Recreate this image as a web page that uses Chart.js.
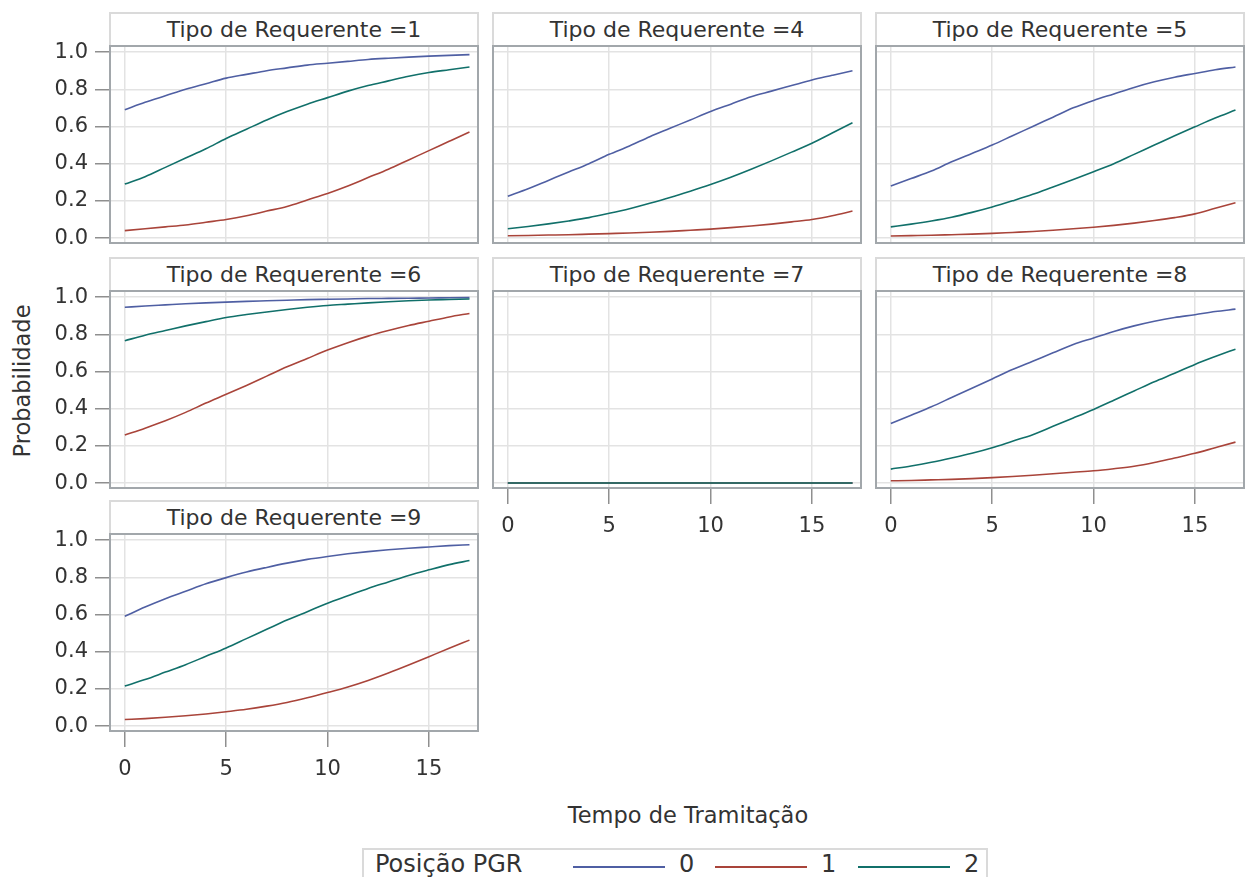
<!DOCTYPE html>
<html lang="pt">
<head>
    <meta charset="UTF-8">
    <title>Probabilidade por Tipo de Requerente</title>
    <script src="https://cdn.jsdelivr.net/npm/chart.js"></script>
    <style>
        body { margin: 0; background: #fff; font-family: "DejaVu Sans", sans-serif; color: #333; }
        #page { position: relative; width: 1250px; height: 877px; overflow: hidden; }
        .hdr {
            position: absolute; box-sizing: border-box; height: 33px;
            border: 2px solid #dadada; border-bottom: none;
            text-align: center; font-size: 22px; line-height: 31px; color: #333;
        }
        canvas { position: absolute; }
        #ytitle {
            position: absolute; left: 22px; top: 381px; font-size: 22.5px;
            transform: translate(-50%, -50%) rotate(-90deg); white-space: nowrap;
        }
        #xtitle {
            position: absolute; left: 688px; top: 815px; font-size: 22.5px;
            transform: translate(-50%, -50%); white-space: nowrap;
        }
        #legenda {
            position: absolute; left: 362px; top: 848px; width: 626px; height: 44px;
            box-sizing: border-box; border: 2px solid #dadada; font-size: 24px;
        }
        #legenda span { position: absolute; top: 0px; }
        #legenda i { position: absolute; top: 16px; height: 2px; width: 92px; }
    </style>
</head>
<body>
<div id="page">
    <div id="ytitle">Probabilidade</div>
    <div id="xtitle">Tempo de Tramitação</div>
    <div id="legenda"></div>
</div>

<script>
    // Tempo de Tramitação (x)
    const tempo = [0, 1, 2, 3, 4, 5, 6, 7, 8, 9, 10, 11, 12, 13, 14, 15, 16, 17];
    const xTicks = [0, 5, 10, 15];
    const yTicks = [0, 0.2, 0.4, 0.6, 0.8, 1.0];
    const posicoes = ["0", "1", "2"];
    const cores = ["#4f5fa3", "#a9443a", "#11706a"];

    // Tipo de Requerente = 1
    const tipo1_pos0 = [0.69, 0.73, 0.765, 0.80, 0.83, 0.86, 0.88, 0.90, 0.915, 0.93, 0.94, 0.95, 0.96, 0.967, 0.973, 0.978, 0.982, 0.986];
    const tipo1_pos1 = [0.04, 0.05, 0.06, 0.07, 0.085, 0.10, 0.12, 0.145, 0.17, 0.205, 0.24, 0.28, 0.325, 0.37, 0.42, 0.47, 0.52, 0.57];
    const tipo1_pos2 = [0.29, 0.33, 0.38, 0.43, 0.48, 0.535, 0.585, 0.635, 0.68, 0.72, 0.755, 0.79, 0.82, 0.845, 0.87, 0.89, 0.905, 0.92];
    // Tipo de Requerente = 4
    const tipo4_pos0 = [0.225, 0.265, 0.31, 0.355, 0.40, 0.45, 0.495, 0.545, 0.59, 0.635, 0.68, 0.72, 0.76, 0.79, 0.82, 0.85, 0.875, 0.90];
    const tipo4_pos1 = [0.012, 0.014, 0.016, 0.018, 0.021, 0.024, 0.027, 0.031, 0.036, 0.042, 0.048, 0.056, 0.065, 0.075, 0.087, 0.10, 0.12, 0.145];
    const tipo4_pos2 = [0.05, 0.062, 0.076, 0.092, 0.11, 0.133, 0.158, 0.187, 0.218, 0.252, 0.288, 0.327, 0.37, 0.415, 0.462, 0.51, 0.565, 0.62];
    // Tipo de Requerente = 5
    const tipo5_pos0 = [0.28, 0.32, 0.36, 0.41, 0.455, 0.50, 0.55, 0.60, 0.65, 0.70, 0.74, 0.775, 0.81, 0.84, 0.865, 0.885, 0.905, 0.92];
    const tipo5_pos1 = [0.011, 0.013, 0.015, 0.018, 0.021, 0.025, 0.03, 0.035, 0.042, 0.05, 0.058, 0.068, 0.08, 0.094, 0.11, 0.13, 0.16, 0.19];
    const tipo5_pos2 = [0.06, 0.075, 0.092, 0.112, 0.138, 0.167, 0.20, 0.235, 0.275, 0.315, 0.357, 0.40, 0.45, 0.50, 0.55, 0.598, 0.645, 0.688];
    // Tipo de Requerente = 6
    const tipo6_pos0 = [0.945, 0.952, 0.958, 0.964, 0.969, 0.973, 0.977, 0.98, 0.983, 0.986, 0.988, 0.99, 0.992, 0.993, 0.994, 0.995, 0.996, 0.997];
    const tipo6_pos1 = [0.258, 0.295, 0.335, 0.38, 0.43, 0.477, 0.525, 0.575, 0.625, 0.67, 0.715, 0.755, 0.79, 0.82, 0.847, 0.87, 0.893, 0.912];
    const tipo6_pos2 = [0.765, 0.795, 0.82, 0.845, 0.868, 0.89, 0.906, 0.92, 0.933, 0.945, 0.955, 0.962, 0.969, 0.975, 0.98, 0.984, 0.987, 0.99];
    // Tipo de Requerente = 7
    const tipo7_pos0 = [0, 0, 0, 0, 0, 0, 0, 0, 0, 0, 0, 0, 0, 0, 0, 0, 0, 0];
    const tipo7_pos1 = [0, 0, 0, 0, 0, 0, 0, 0, 0, 0, 0, 0, 0, 0, 0, 0, 0, 0];
    const tipo7_pos2 = [0, 0, 0, 0, 0, 0, 0, 0, 0, 0, 0, 0, 0, 0, 0, 0, 0, 0];
    // Tipo de Requerente = 8
    const tipo8_pos0 = [0.32, 0.365, 0.41, 0.46, 0.51, 0.56, 0.61, 0.655, 0.70, 0.745, 0.78, 0.815, 0.845, 0.87, 0.89, 0.905, 0.922, 0.935];
    const tipo8_pos1 = [0.012, 0.014, 0.017, 0.02, 0.024, 0.029, 0.035, 0.042, 0.05, 0.058, 0.066, 0.077, 0.09, 0.11, 0.135, 0.16, 0.19, 0.22];
    const tipo8_pos2 = [0.075, 0.092, 0.112, 0.135, 0.16, 0.19, 0.225, 0.26, 0.305, 0.35, 0.396, 0.445, 0.495, 0.545, 0.59, 0.638, 0.68, 0.72];
    // Tipo de Requerente = 9
    const tipo9_pos0 = [0.59, 0.64, 0.685, 0.725, 0.765, 0.798, 0.828, 0.853, 0.876, 0.896, 0.912, 0.926, 0.938, 0.948, 0.956, 0.963, 0.97, 0.975];
    const tipo9_pos1 = [0.035, 0.04, 0.047, 0.055, 0.065, 0.077, 0.09, 0.107, 0.127, 0.152, 0.18, 0.21, 0.245, 0.285, 0.328, 0.373, 0.418, 0.462];
    const tipo9_pos2 = [0.215, 0.25, 0.29, 0.33, 0.375, 0.42, 0.47, 0.52, 0.57, 0.615, 0.66, 0.70, 0.74, 0.775, 0.81, 0.84, 0.868, 0.89];

    // panel layout
    const colLeft = [109, 492, 875];
    const rowTop = [12, 257, 500];
    const frameW = 370, frameH = 199, hdrH = 33;
    const yAxisW = 100, xAxisH = 56, padTop = 14;

    const paineis = [
        { tipo: "1", col: 0, row: 0, y: true,  x: false, series: [tipo1_pos0, tipo1_pos1, tipo1_pos2] },
        { tipo: "4", col: 1, row: 0, y: false, x: false, series: [tipo4_pos0, tipo4_pos1, tipo4_pos2] },
        { tipo: "5", col: 2, row: 0, y: false, x: false, series: [tipo5_pos0, tipo5_pos1, tipo5_pos2] },
        { tipo: "6", col: 0, row: 1, y: true,  x: false, series: [tipo6_pos0, tipo6_pos1, tipo6_pos2] },
        { tipo: "7", col: 1, row: 1, y: false, x: true,  series: [tipo7_pos0, tipo7_pos1, tipo7_pos2] },
        { tipo: "8", col: 2, row: 1, y: false, x: true,  series: [tipo8_pos0, tipo8_pos1, tipo8_pos2] },
        { tipo: "9", col: 0, row: 2, y: true,  x: true,  series: [tipo9_pos0, tipo9_pos1, tipo9_pos2] }
    ];

    const framePlugin = {
        id: "frame",
        afterDraw(chart) {
            const a = chart.chartArea, ctx = chart.ctx;
            ctx.save();
            ctx.strokeStyle = "#a2a7ab";
            ctx.lineWidth = 2;
            ctx.strokeRect(a.left + 1, a.top + 1, a.right - a.left - 2, a.bottom - a.top - 2);
            ctx.restore();
        }
    };

    const page = document.getElementById("page");
    const fonte = { family: "'DejaVu Sans', sans-serif", size: 21 };

    paineis.forEach(p => {
        const left = colLeft[p.col];
        const top = rowTop[p.row];

        const hdr = document.createElement("div");
        hdr.className = "hdr";
        hdr.style.left = left + "px";
        hdr.style.top = top + "px";
        hdr.style.width = frameW + "px";
        hdr.textContent = "Tipo de Requerente =" + p.tipo;
        page.appendChild(hdr);

        // canvas reaches a little above the frame so the "1.0" label is not cut
        const cv = document.createElement("canvas");
        const w = frameW + (p.y ? yAxisW : 0);
        const h = padTop + frameH + (p.x ? xAxisH : 0);
        cv.width = w; cv.height = h;
        cv.style.width = w + "px"; cv.style.height = h + "px";
        cv.style.left = (left - (p.y ? yAxisW : 0)) + "px";
        cv.style.top = (top + hdrH - padTop) + "px";
        page.appendChild(cv);

        new Chart(cv.getContext("2d"), {
            type: "line",
            data: {
                datasets: p.series.map((vals, i) => ({
                    label: posicoes[i],
                    data: tempo.map((t, k) => ({ x: t, y: vals[k] })),
                    borderColor: cores[i],
                    borderWidth: 1.6,
                    pointRadius: 0,
                    cubicInterpolationMode: "monotone",
                    order: 2 - i
                }))
            },
            options: {
                responsive: false,
                animation: false,
                devicePixelRatio: 1,
                layout: { padding: { top: padTop, left: 0, right: 0, bottom: 0 }, autoPadding: false },
                plugins: { legend: { display: false }, tooltip: { enabled: false } },
                scales: {
                    x: {
                        type: "linear", min: -0.78, max: 17.47,
                        afterBuildTicks: s => { s.ticks = xTicks.map(v => ({ value: v })); },
                        afterFit: s => { s.height = p.x ? xAxisH : 0; s.paddingLeft = 0; s.paddingRight = 0; },
                        border: { display: false },
                        grid: { color: "#e3e3e3", lineWidth: 1.5, drawTicks: p.x, tickLength: 15, tickColor: "#8f8f8f", tickWidth: 1.5 },
                        ticks: { display: p.x, color: "#333", font: fonte, padding: 10, maxRotation: 0 }
                    },
                    y: {
                        min: -0.032, max: 1.038,
                        afterBuildTicks: s => { s.ticks = yTicks.map(v => ({ value: v })); },
                        afterFit: s => { s.width = p.y ? yAxisW : 0; s.paddingTop = 0; s.paddingBottom = 0; },
                        border: { display: false },
                        grid: { color: "#e3e3e3", lineWidth: 1.5, drawTicks: p.y, tickLength: 14, tickColor: "#8f8f8f", tickWidth: 1.5 },
                        ticks: { display: p.y, color: "#333", font: fonte, padding: 7, callback: v => v.toFixed(1) }
                    }
                }
            },
            plugins: [framePlugin]
        });
    });

    // legenda
    const leg = document.getElementById("legenda");
    let html = '<span style="left:11px">Posição PGR</span>';
    const linhaX = [209, 351, 494];
    posicoes.forEach((pos, i) => {
        html += '<i style="left:' + linhaX[i] + 'px;background:' + cores[i] + '"></i>';
        html += '<span style="left:' + (linhaX[i] + 106) + 'px">' + pos + '</span>';
    });
    leg.innerHTML = html;
</script>
</body>
</html>
